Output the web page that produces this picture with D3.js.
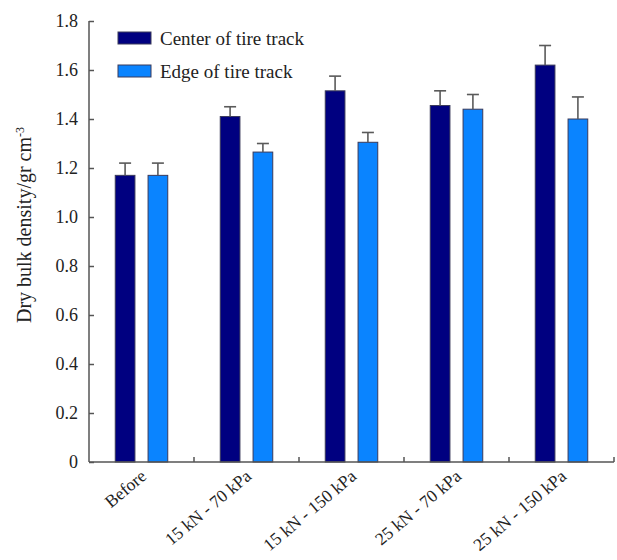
<!DOCTYPE html>
<html>
<head>
<meta charset="utf-8">
<script src="https://cdn.jsdelivr.net/npm/d3@7"></script>
<style>
  html, body { margin: 0; padding: 0; background: #fff; }
  svg { display: block; }
  svg text { font-family: "Liberation Serif", "DejaVu Serif", serif; }
</style>
</head>
<body>
<svg id="chart" width="617" height="560"></svg>
<script>
// Treatments along the x axis
const categories = ["Before", "15 kN - 70 kPa", "15 kN - 150 kPa", "25 kN - 70 kPa", "25 kN - 150 kPa"];
// Series: dry bulk density (g cm^-3) and standard errors
const seriesNames = ["Center of tire track", "Edge of tire track"];
const centerValues = [1.17, 1.41, 1.515, 1.455, 1.62];
const centerErrors = [0.05, 0.04, 0.06, 0.06, 0.08];
const edgeValues = [1.17, 1.265, 1.305, 1.44, 1.40];
const edgeErrors = [0.05, 0.035, 0.04, 0.06, 0.09];
const yTicks = [0, 0.2, 0.4, 0.6, 0.8, 1.0, 1.2, 1.4, 1.6, 1.8];
const yTickLabels = ["0", "0.2", "0.4", "0.6", "0.8", "1.0", "1.2", "1.4", "1.6", "1.8"];

const colors = { "Center of tire track": "#000080", "Edge of tire track": "#0a84ff" };
const axisColor = "#555";
const serif = "'Liberation Serif', 'DejaVu Serif', serif";

const rows = categories.map((c, i) => ({
  category: c,
  bars: [
    { key: seriesNames[0], value: centerValues[i], err: centerErrors[i] },
    { key: seriesNames[1], value: edgeValues[i], err: edgeErrors[i] }
  ]
}));

const svg = d3.select("#chart");
const plot = { left: 89, right: 614, top: 21, bottom: 462 };

const x0 = d3.scaleBand().domain(categories).range([plot.left, plot.right]).paddingInner(0).paddingOuter(0);
const x1 = d3.scaleBand().domain(seriesNames).range([0, x0.bandwidth()]).paddingInner(0.4).paddingOuter(0.8);
const y = d3.scaleLinear().domain([0, 1.8]).range([plot.bottom, plot.top]);

// Bars
const groups = svg.append("g").selectAll("g").data(rows).join("g")
  .attr("transform", d => `translate(${x0(d.category)},0)`);

groups.selectAll("rect").data(d => d.bars).join("rect")
  .attr("x", d => x1(d.key))
  .attr("y", d => y(d.value))
  .attr("width", x1.bandwidth())
  .attr("height", d => y(0) - y(d.value))
  .attr("fill", d => colors[d.key])
  .attr("stroke", "#3a3a5a")
  .attr("stroke-width", 1);

// Error bars (upper only)
const eb = groups.selectAll("g.err").data(d => d.bars).join("g").attr("class", "err")
  .attr("stroke", "#5a5a5a").attr("stroke-width", 1.6);
eb.append("line")
  .attr("x1", d => x1(d.key) + x1.bandwidth() / 2)
  .attr("x2", d => x1(d.key) + x1.bandwidth() / 2)
  .attr("y1", d => y(d.value))
  .attr("y2", d => y(d.value + d.err));
eb.append("line")
  .attr("x1", d => x1(d.key) + x1.bandwidth() / 2 - 6)
  .attr("x2", d => x1(d.key) + x1.bandwidth() / 2 + 6)
  .attr("y1", d => y(d.value + d.err))
  .attr("y2", d => y(d.value + d.err));

// Y axis with inward ticks
const yAxis = d3.axisRight(y).tickValues(yTicks).tickSize(5).tickFormat("");
const gy = svg.append("g").attr("transform", `translate(${plot.left},0)`).call(yAxis);
gy.select(".domain").attr("d", `M0,${plot.bottom}V${plot.top}`);
gy.selectAll("line, path").attr("stroke", axisColor).attr("stroke-width", 1.5);

svg.append("g").selectAll("text").data(yTicks).join("text")
  .attr("x", plot.left - 11)
  .attr("y", d => y(d))
  .attr("dy", "0.35em")
  .attr("text-anchor", "end")
  .attr("font-family", serif)
  .attr("font-size", 18)
  .attr("fill", "#222")
  .text((d, i) => yTickLabels[i]);

// X axis: baseline with inward ticks between groups
const boundaries = categories.map(c => x0(c) + x0.bandwidth());
const gx = svg.append("g");
gx.append("line").attr("x1", plot.left).attr("x2", plot.right).attr("y1", plot.bottom).attr("y2", plot.bottom)
  .attr("stroke", axisColor).attr("stroke-width", 1.5);
gx.selectAll("line.tick").data(boundaries).join("line").attr("class", "tick")
  .attr("x1", d => d).attr("x2", d => d)
  .attr("y1", plot.bottom).attr("y2", plot.bottom - 5)
  .attr("stroke", axisColor).attr("stroke-width", 1.5);

// Rotated category labels
svg.append("g").selectAll("text").data(categories).join("text")
  .attr("transform", d => `translate(${x0(d) + x0.bandwidth() / 2 + 6},${plot.bottom + 16}) rotate(-40)`)
  .attr("text-anchor", "end")
  .attr("font-family", serif)
  .attr("font-size", 17.5)
  .attr("fill", "#222")
  .text(d => d);

// Y axis title
const title = svg.append("text")
  .attr("transform", `translate(31,225) rotate(-90)`)
  .attr("text-anchor", "middle")
  .attr("font-family", serif)
  .attr("font-size", 20)
  .attr("fill", "#222");
title.append("tspan").text("Dry bulk density/gr cm");
title.append("tspan").attr("dy", "-0.55em").attr("font-size", 12).text("-3");

// Legend
const legend = svg.append("g").selectAll("g").data(seriesNames).join("g")
  .attr("transform", (d, i) => `translate(118,${32 + i * 33})`);
legend.append("rect")
  .attr("width", 33).attr("height", 12)
  .attr("fill", d => colors[d])
  .attr("stroke", "#3a3a5a").attr("stroke-width", 1);
legend.append("text")
  .attr("x", 42).attr("y", 13)
  .attr("font-family", serif)
  .attr("font-size", 19)
  .attr("fill", "#222")
  .text(d => d);
</script>
</body>
</html>
